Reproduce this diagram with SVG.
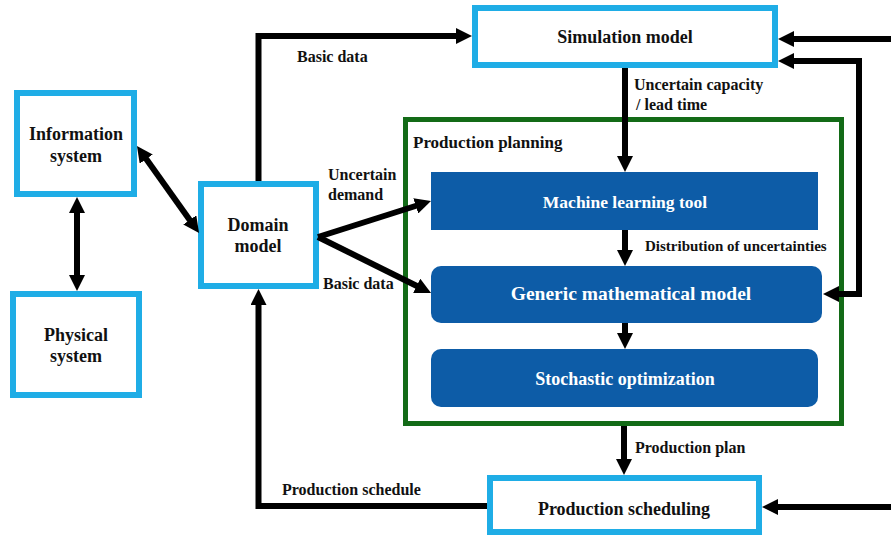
<svg xmlns="http://www.w3.org/2000/svg" width="891" height="536" viewBox="0 0 891 536">
<style>
.box{fill:#fff;stroke:#1fade6;stroke-width:6}
.blue{fill:#0d5ca7}
text{font-family:"Liberation Serif","Times New Roman","DejaVu Serif",serif;font-weight:bold}
.t{font-size:18px;fill:#111;text-anchor:middle}
.w{fill:#fff}
.lb{font-size:16px;fill:#111}
.c{fill:none;stroke:#000;stroke-width:6}
</style>
<defs>
<marker id="ah" markerUnits="userSpaceOnUse" viewBox="0 0 16 16" markerWidth="16" markerHeight="16" refX="3" refY="8" orient="auto-start-reverse">
<path d="M0,0 L16,8 L0,16 z" fill="#000"/>
</marker>
</defs>
<rect width="891" height="536" fill="#fff"/>

<g id="production-planning">
<rect x="405.5" y="119.5" width="436" height="304" fill="none" stroke="#136b17" stroke-width="5"/>
<text class="lb" x="413" y="148" style="font-size:17px">Production planning</text>
</g>

<g id="information-system">
<rect class="box" x="17" y="93" width="117" height="101"/>
<text class="t" x="76" y="140">Information</text>
<text class="t" x="76" y="162">system</text>
</g>

<g id="physical-system">
<rect class="box" x="13" y="294" width="126" height="101"/>
<text class="t" x="76" y="341">Physical</text>
<text class="t" x="76" y="362">system</text>
</g>

<g id="domain-model">
<rect class="box" x="201" y="184" width="115" height="102"/>
<text class="t" x="258" y="231">Domain</text>
<text class="t" x="258" y="252">model</text>
</g>

<g id="simulation-model">
<rect class="box" x="475" y="8" width="300" height="57"/>
<text class="t" x="625" y="43">Simulation model</text>
</g>

<g id="production-scheduling">
<rect class="box" x="490" y="478" width="269" height="54"/>
<text class="t" x="624" y="515">Production scheduling</text>
</g>

<g id="machine-learning-tool">
<rect class="blue" x="431" y="172" width="387" height="58"/>
<text class="t w" x="625" y="208" style="font-size:17.5px">Machine learning tool</text>
</g>

<g id="generic-mathematical-model">
<rect class="blue" x="431" y="266" width="391" height="57" rx="10"/>
<text class="t w" x="631" y="300" style="font-size:19.5px">Generic mathematical model</text>
</g>

<g id="stochastic-optimization">
<rect class="blue" x="431" y="349" width="387" height="58" rx="10"/>
<text class="t w" x="625" y="385">Stochastic optimization</text>
</g>

<g id="connectors">
<path class="c" d="M258.5,181 V36 H459" marker-end="url(#ah)"/>
<path class="c" d="M144.5,156.6 L191.5,222.4" marker-start="url(#ah)" marker-end="url(#ah)"/>
<path class="c" d="M77,210 V278" marker-start="url(#ah)" marker-end="url(#ah)"/>
<path class="c" d="M318,237 L418.6,205" marker-end="url(#ah)"/>
<path class="c" d="M318,237 L419.4,287.2" marker-end="url(#ah)"/>
<path class="c" d="M487,506 H258.5 V302" marker-end="url(#ah)"/>
<path class="c" d="M625,68 V159" marker-end="url(#ah)"/>
<path class="c" d="M625,230 V253" marker-end="url(#ah)"/>
<path class="c" d="M625,323 V336" marker-end="url(#ah)"/>
<path class="c" d="M624,426 V462" marker-end="url(#ah)"/>
<path class="c" d="M891,39 H791" marker-end="url(#ah)"/>
<path class="c" d="M791,61 H859 V294 H836" marker-start="url(#ah)" marker-end="url(#ah)"/>
<path class="c" d="M891,507 H775" marker-end="url(#ah)"/>
<text class="lb" x="297" y="62">Basic data</text>
<text class="lb" x="328" y="180">Uncertain</text>
<text class="lb" x="328" y="200">demand</text>
<text class="lb" x="323" y="289">Basic data</text>
<text class="lb" x="282" y="495">Production schedule</text>
<text class="lb" x="634" y="90">Uncertain capacity</text>
<text class="lb" x="636" y="110">/ lead time</text>
<text class="lb" x="645" y="251" style="font-size:15px">Distribution of uncertainties</text>
<text class="lb" x="635" y="453">Production plan</text>
</g>
</svg>
